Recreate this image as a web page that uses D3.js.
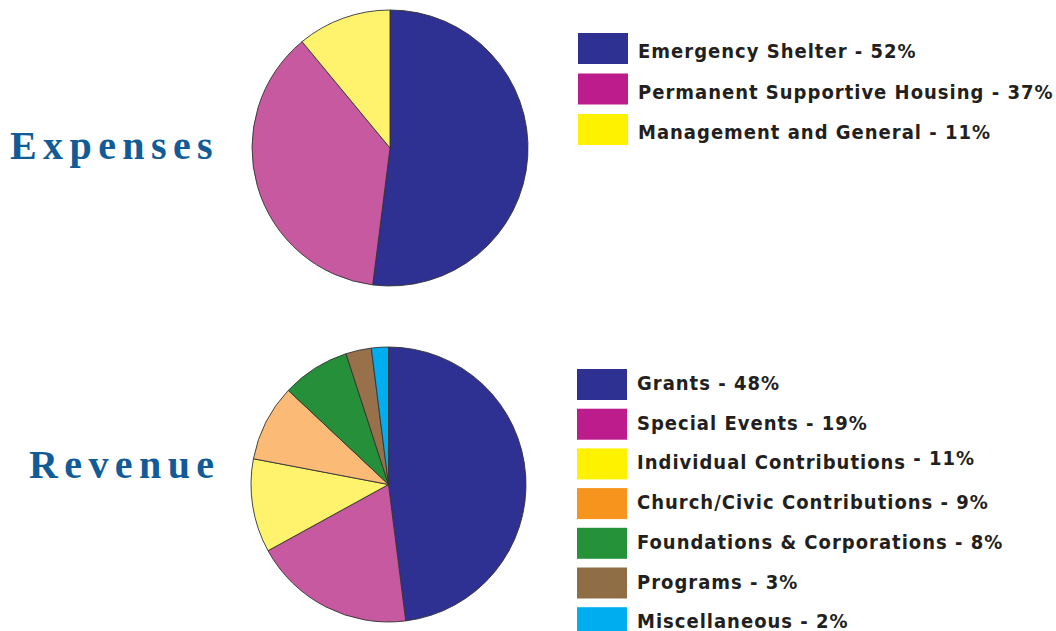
<!DOCTYPE html>
<html>
<head>
<meta charset="utf-8">
<script src="https://cdn.jsdelivr.net/npm/d3@7"></script>
<style>
  body { margin: 0; background: #fff; }
  svg { display: block; }
</style>
</head>
<body>
<svg id="chart" width="1056" height="631"></svg>
<script>
// expenses
const expenseLabels = ["Emergency Shelter", "Permanent Supportive Housing", "Management and General"];
const expenseValues = [52, 37, 11];

// revenue
const revenueLabels = ["Grants", "Special Events", "Individual Contributions", "Church/Civic Contributions",
  "Foundations & Corporations", "Programs", "Miscellaneous"];
const revenueValues = [48, 19, 11, 9, 8, 3, 2];

// pie slice colours are lighter than the legend swatches
const pieColors = ["#2e3192", "#c659a0", "#fff36e", "#fbbb77", "#258f3a", "#98714a", "#00aeef"];
const swatchColors = ["#2e3192", "#bc1c8c", "#fff200", "#f7941d", "#259139", "#8f6e46", "#00aeef"];

const svg = d3.select("#chart");

function drawSection(opts) {
  const { title, labels, values, cx, cy, r, titleX, titleY, legendX, legendY, step, textY } = opts;

  svg.append("text")
    .attr("x", titleX)
    .attr("y", titleY)
    .attr("font-family", "Liberation Serif, serif")
    .attr("font-weight", "bold")
    .attr("font-size", 40)
    .attr("letter-spacing", "6.4px")
    .attr("fill", "#115b96")
    .text(title);

  const data = labels.map((l, i) => ({ label: l, value: values[i], i }));

  const pie = d3.pie().sort(null).value(d => d.value);
  const arc = d3.arc().innerRadius(0).outerRadius(r);

  const g = svg.append("g").attr("transform", `translate(${cx}, ${cy})`);
  g.selectAll("path")
    .data(pie(data))
    .enter().append("path")
    .attr("d", arc)
    .attr("fill", d => pieColors[d.data.i])
    .attr("stroke", "#333")
    .attr("stroke-width", 0.9);

  const leg = svg.append("g").attr("transform", `translate(${legendX}, ${legendY})`);
  const item = leg.selectAll(".item")
    .data(data)
    .enter().append("g")
    .attr("class", "item")
    .attr("transform", d => `translate(0, ${d.i * step})`);

  item.append("rect")
    .attr("width", 50)
    .attr("height", 31)
    .attr("fill", d => swatchColors[d.i]);

  const t = item.append("text")
    .attr("x", 60)
    .attr("y", textY)
    .attr("font-family", "DejaVu Sans Condensed, DejaVu Sans, sans-serif")
    .attr("font-weight", "bold")
    .attr("font-size", 20)
    .attr("letter-spacing", "1px")
    .attr("fill", "#231f20");

  t.append("tspan").text(d => d.label + " ");
  // the original nudges one percentage up a little
  t.append("tspan")
    .attr("dy", d => d.label === "Individual Contributions" ? -4 : 0)
    .text(d => "- " + d.value + "%");
}

drawSection({
  title: "Expenses", labels: expenseLabels, values: expenseValues,
  cx: 390, cy: 148, r: 138, titleX: 10, titleY: 159,
  legendX: 578, legendY: 33, step: 40.5, textY: 25
});

drawSection({
  title: "Revenue", labels: revenueLabels, values: revenueValues,
  cx: 388.5, cy: 484.5, r: 137.5, titleX: 29, titleY: 478,
  legendX: 577, legendY: 369, step: 39.7, textY: 21
});
</script>
</body>
</html>
